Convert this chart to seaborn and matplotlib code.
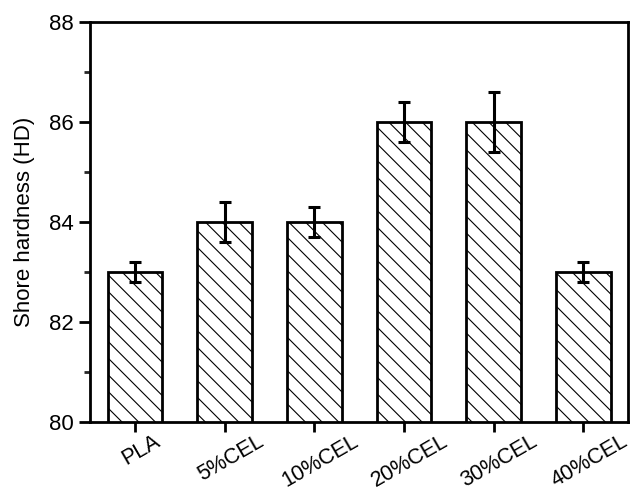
import matplotlib
matplotlib.use("Agg")
import matplotlib.pyplot as plt
import matplotlib.transforms as mtransforms
import seaborn as sns
import pandas as pd
from matplotlib.ticker import MultipleLocator

samples = ["PLA", "5%CEL", "10%CEL", "20%CEL", "30%CEL", "40%CEL"]
hardness = [83.0, 84.0, 84.0, 86.0, 86.0, 83.0]
hardness_err = [0.2, 0.4, 0.3, 0.4, 0.6, 0.2]

df = pd.DataFrame({"sample": samples, "hardness": hardness})

sns.set_theme(style="ticks")
plt.rcParams["font.family"] = ["Liberation Sans", "DejaVu Sans"]
plt.rcParams["hatch.linewidth"] = 0.8
plt.rcParams["hatch.color"] = "#333333"

fig = plt.figure(figsize=(6.3, 4.93), dpi=100)
ax = fig.add_axes([0.143, 0.144, 0.854, 0.811])

sns.barplot(data=df, x="sample", y="hardness", ax=ax, color="white",
            edgecolor="black", linewidth=2, width=0.61, errorbar=None)
for p in ax.patches:
    p.set_facecolor("white")
    p.set_hatch("\\\\")

ax.errorbar(range(len(samples)), hardness, yerr=hardness_err, fmt="none",
            ecolor="black", elinewidth=2.2, capsize=4, capthick=2.2)

ax.set_xlim(-0.5, len(samples) - 0.5)
ax.set_ylim(80, 88)
ax.yaxis.set_major_locator(MultipleLocator(2))
ax.yaxis.set_minor_locator(MultipleLocator(1))

for s in ax.spines.values():
    s.set_linewidth(2)
    s.set_color("black")
    s.set_visible(True)

ax.tick_params(axis="y", which="major", direction="out", length=8, width=2,
               labelsize=16, colors="black", pad=4)
ax.tick_params(axis="y", which="minor", direction="out", length=4, width=2)
ax.tick_params(axis="x", which="major", direction="out", length=7, width=2,
               labelsize=15.5, colors="black", pad=-1)
ax.tick_params(top=False, right=False)
ax.set_xlabel("")
ax.set_ylabel("Shore hardness (HD)", fontsize=16, color="black", labelpad=10)

shift = mtransforms.ScaledTranslation(6 / 100, 0, fig.dpi_scale_trans)
for lab in ax.get_xticklabels():
    lab.set_rotation(30)
    lab.set_ha("center")
    lab.set_transform(lab.get_transform() + shift)

fig.savefig("out.png", dpi=100)
